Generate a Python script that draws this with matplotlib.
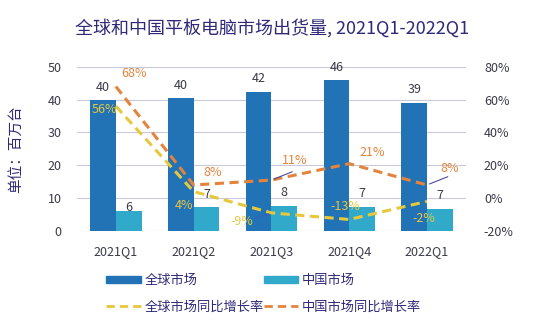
import numpy as np
import matplotlib
matplotlib.use('Agg')
import matplotlib.pyplot as plt
from matplotlib.lines import Line2D
from matplotlib.patches import Patch

plt.rcParams['font.family'] = ['Noto Sans CJK SC', 'DejaVu Sans']

quarters = ['2021Q1', '2021Q2', '2021Q3', '2021Q4', '2022Q1']
global_ship = [39.8, 40.4, 42.3, 45.9, 39.1]
china_ship = [6.1, 7.2, 7.6, 7.3, 6.8]
global_labels = ['40', '40', '42', '46', '39']
china_labels = ['6', '7', '8', '7', '7']
global_yoy = [56, 4, -9, -13, -2]
china_yoy = [68, 8, 11, 21, 8]

NAVY = '#2e2a78'
BLUE = '#2272b6'
CYAN = '#30a9cb'
YELLOW = '#e6c83c'
ORANGE = '#e4843c'
GRID = '#c9c9d9'
TXT = '#3a3a4a'

fig = plt.figure(figsize=(5.33, 3.23), dpi=100)
ax = fig.add_axes([0.1445, 0.285, 0.7295, 0.508])
ax2 = ax.twinx()

x = np.arange(len(quarters))
w = 0.33
ax.bar(x - w/2, global_ship, w, color=BLUE, zorder=2)
ax.bar(x + w/2, china_ship, w, color=CYAN, zorder=2)

china_dy = [2.5, 9.5, 9.5, 9.5, 9.5]
for i in range(len(x)):
    ax.annotate(global_labels[i], (x[i] - w/2, global_ship[i]), xytext=(0, 9.5),
                textcoords='offset points', ha='center', va='center', fontsize=9, color=TXT)
    ax.annotate(china_labels[i], (x[i] + w/2, china_ship[i]), xytext=(0, china_dy[i]),
                textcoords='offset points', ha='center', va='center', fontsize=9, color=TXT)

ax.set_xlim(-0.5, 4.5)
ax.set_ylim(0, 50)
ax.set_yticks(range(0, 51, 10))
ax.grid(axis='y', color=GRID, linewidth=0.8, zorder=0)
ax.set_axisbelow(True)
ax.set_xticks(x)
ax.set_xticklabels(quarters)
for a in (ax, ax2):
    for s in a.spines.values():
        s.set_visible(False)
    a.tick_params(length=0, labelsize=9, labelcolor=TXT)
ax.tick_params(axis='x', pad=10)
ax.tick_params(axis='y', pad=11)
ax2.tick_params(axis='y', pad=13)

ax2.set_ylim(-20, 80)
ax2.set_yticks(range(-20, 81, 20))
ax2.set_yticklabels([f'{v}%' for v in range(-20, 81, 20)])

ax2.plot(x, global_yoy, color=YELLOW, lw=2.2, dashes=(3, 1.8), zorder=3)
ax2.plot(x, china_yoy, color=ORANGE, lw=2.2, dashes=(3, 1.8), zorder=3)

# percentage labels (offsets in points)
g_off = [(-8, -2), (-7, -10), (-21, -6.5), (-3, 9), (-2, -12)]
c_off = [(13, 9.5), (14, 9), (17, 14), (16.5, 8), (16, 12)]
for i in range(len(x)):
    ax2.annotate(f'{global_yoy[i]}%', (x[i], global_yoy[i]), xytext=g_off[i],
                 textcoords='offset points', ha='center', va='center',
                 fontsize=9, color=YELLOW, zorder=5)
    ax2.annotate(f'{china_yoy[i]}%', (x[i], china_yoy[i]), xytext=c_off[i],
                 textcoords='offset points', ha='center', va='center',
                 fontsize=9, color=ORANGE, zorder=5)

# leader lines
for i, val in [(2, china_yoy[2]), (4, china_yoy[4])]:
    ax2.annotate('', (x[i], val), xytext=(15, 6), textcoords='offset points',
                 arrowprops=dict(arrowstyle='-', color='#4a4aa0', lw=0.8,
                                 shrinkA=0, shrinkB=2))
ax2.annotate('', (x[2], global_yoy[2]), xytext=(-12, -4), textcoords='offset points',
             arrowprops=dict(arrowstyle='-', color='#3a5ec0', lw=0.8, shrinkA=0, shrinkB=2))

ax.set_ylabel('单位：百万台', fontsize=10.5, color=NAVY)
ax.yaxis.set_label_coords(-0.14, 0.5)

fig.text(0.51, 0.913, '全球和中国平板电脑市场出货量, 2021Q1-2022Q1', ha='center', va='center',
         fontsize=13, color=NAVY)

handles = [Patch(color=BLUE), Patch(color=CYAN),
           Line2D([], [], color=YELLOW, lw=2, dashes=(3, 1.8)),
           Line2D([], [], color=ORANGE, lw=2, dashes=(3, 1.8))]
labels = ['全球市场', '中国市场', '全球市场同比增长率', '中国市场同比增长率']
order = [0, 2, 1, 3]
leg = fig.legend([handles[k] for k in order], [labels[k] for k in order], ncol=2,
                 loc='center', bbox_to_anchor=(0.495, 0.09), frameon=False,
                 fontsize=9.5, handlelength=2.6, handleheight=0.5, columnspacing=0.0,
                 labelspacing=1.0, handletextpad=0.3)
for t in leg.get_texts():
    t.set_color(NAVY)

fig.savefig('out.png', dpi=100)
